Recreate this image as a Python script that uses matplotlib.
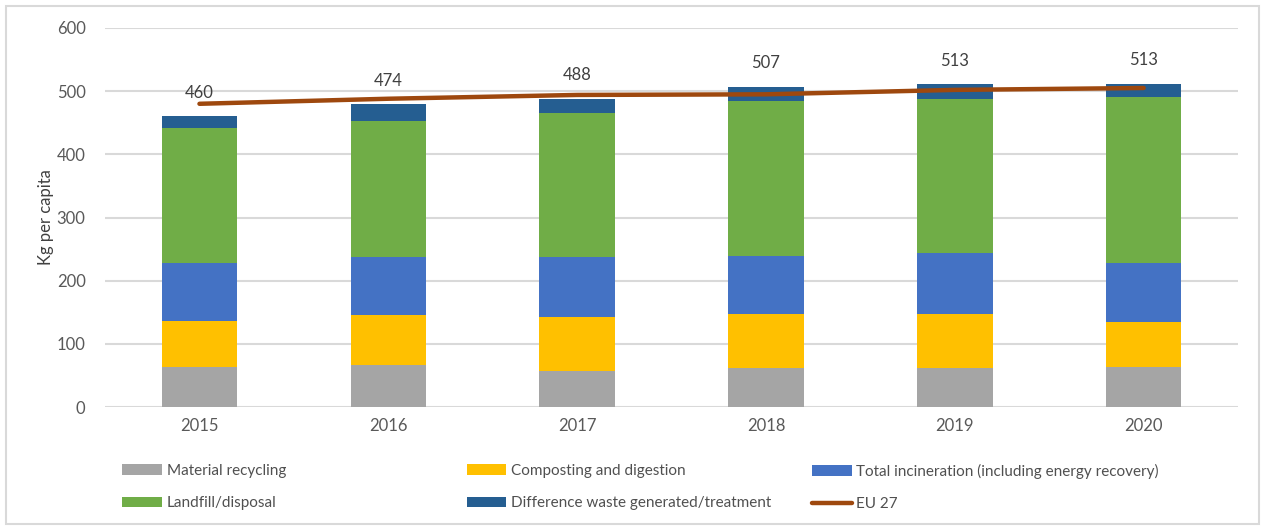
import numpy as np
import matplotlib.pyplot as plt
from matplotlib.patches import Rectangle

plt.rcParams['font.family'] = ['Lato', 'DejaVu Sans']

# 数据
years = ['2015', '2016', '2017', '2018', '2019', '2020']
recycling = [64, 66, 57, 61, 61, 64]
composting = [72, 80, 85, 87, 87, 70]
incineration = [92, 92, 95, 91, 96, 94]
landfill = [214, 214, 228, 246, 244, 262]
difference = [18, 27, 23, 22, 23, 22]
eu27 = [480, 488, 494, 495, 502, 505]
total_labels = [460, 474, 488, 507, 513, 513]

series_names = ['Material recycling', 'Composting and digestion',
                'Total incineration (including energy recovery)',
                'Landfill/disposal', 'Difference waste generated/treatment']
series_colors = ['#A5A5A5', '#FFC000', '#4472C4', '#70AD47', '#255E91']
line_color = '#9E480E'

fig = plt.figure(figsize=(12.61, 5.26), dpi=100)
ax = fig.add_axes([0.0833, 0.2262, 0.8985, 0.7206])

x = np.arange(len(years))
bottom = np.zeros(len(years))
handles = []
for vals, name, col in zip([recycling, composting, incineration, landfill, difference],
                           series_names, series_colors):
    b = ax.bar(x, vals, width=0.4, bottom=bottom, color=col, label=name, zorder=2)
    handles.append(b)
    bottom += np.array(vals)

ln, = ax.plot(x, eu27, color=line_color, lw=3.2, solid_capstyle='round', zorder=3, label='EU 27')

# 柱顶数值标签
for xi, top, lab in zip(x, bottom, total_labels):
    ax.annotate(str(lab), (xi, top), textcoords='offset points', xytext=(0, 17),
                ha='center', va='center', fontsize=12, color='#404040')

ax.set_xlim(-0.5, 5.5)
ax.set_ylim(0, 600)
ax.set_yticks(range(0, 601, 100))
ax.set_xticks(x)
ax.set_xticklabels(years)
ax.tick_params(axis='both', length=0, labelsize=12, labelcolor='#595959')
ax.tick_params(axis='y', pad=14)
ax.tick_params(axis='x', pad=8)
ax.grid(axis='y', color='#D9D9D9', lw=1.5, zorder=0)
ax.set_axisbelow(True)
for s in ax.spines.values():
    s.set_visible(False)
ax.set_ylabel('Kg per capita', fontsize=12, color='#404040', labelpad=2)

# 图例：三列，每列两行
cols = [(handles[0], handles[3]), (handles[1], handles[4]), (handles[2], ln)]
xs = [0.097, 0.370, 0.644]
for (h1, h2), xpos in zip(cols, xs):
    leg = fig.legend([h1, h2], [h1.get_label(), h2.get_label()], loc='upper left',
                     bbox_to_anchor=(xpos, 0.118), frameon=False, fontsize=11,
                     handlelength=2.6, handleheight=0.7, handletextpad=0.3,
                     labelspacing=1.2, borderaxespad=0, borderpad=0)
    for t in leg.get_texts():
        t.set_color('#505050')

# 外框
fig.patches.append(Rectangle((6 / 1261, 2 / 526), 1253 / 1261, 518 / 526,
                             transform=fig.transFigure, fill=False,
                             edgecolor='#D9D9D9', lw=1.5))

plt.savefig('out.png', dpi=100)
